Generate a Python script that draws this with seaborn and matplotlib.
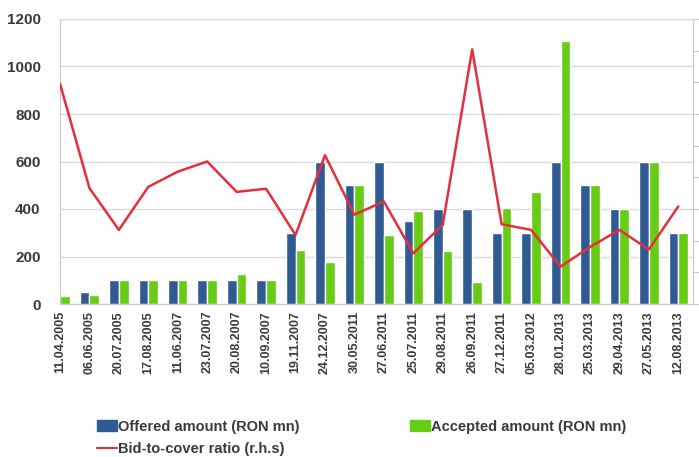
import numpy as np
import pandas as pd
import matplotlib
matplotlib.use("Agg")
import matplotlib.pyplot as plt
from matplotlib.patches import Patch
from matplotlib.lines import Line2D
import seaborn as sns

dates = ["11.04.2005", "06.06.2005", "20.07.2005", "17.08.2005", "11.06.2007",
         "23.07.2007", "20.08.2007", "10.09.2007", "19.11.2007", "24.12.2007",
         "30.05.2011", "27.06.2011", "25.07.2011", "29.08.2011", "26.09.2011",
         "27.12.2011", "05.03.2012", "28.01.2013", "25.03.2013", "29.04.2013",
         "27.05.2013", "12.08.2013"]
offered = [0, 50, 100, 100, 100, 100, 100, 100, 300, 600, 500,
           600, 350, 400, 400, 300, 300, 600, 500, 400, 600, 300]
accepted = [32, 36, 100, 100, 100, 100, 125, 100, 227, 178, 500,
            290, 390, 225, 94, 403, 473, 1108, 500, 400, 600, 300]
bid_to_cover = [3.48, 1.83, 1.17, 1.85, 2.09, 2.25, 1.77, 1.82, 1.09, 2.35, 1.41,
                1.62, 0.80, 1.25, 4.02, 1.26, 1.17, 0.59, 0.90, 1.17, 0.86, 1.54]

offered_label = "Offered amount (RON mn)"
accepted_label = "Accepted amount (RON mn)"
ratio_label = "Bid-to-cover ratio (r.h.s)"

blue = "#2F5B92"
green = "#66CC14"
red = "#E52E3E"
txt = "#3A3A3A"

sns.set_style("white")
plt.rcParams['font.family'] = ['Liberation Sans', 'DejaVu Sans']
plt.rcParams['font.weight'] = 'bold'

df = pd.DataFrame({"date": dates * 2,
                   "amount": offered + accepted,
                   "series": [offered_label] * len(dates) + [accepted_label] * len(dates)})

fig = plt.figure(figsize=(6.99, 4.57), dpi=100)
ax = fig.add_axes([60 / 699, 153 / 457, 633 / 699, 285 / 457])

sns.barplot(data=df, x="date", y="amount", hue="series", order=dates,
            palette=[blue, green], width=0.66, saturation=1, ax=ax, legend=False)

ax.set_ylim(0, 1200)
ax.set_yticks(range(0, 1201, 200))
ax.set_xlim(0, 21.5)
ax.grid(axis="y", color="#DADADA", linewidth=1)
ax.set_axisbelow(True)
ax.set_xlabel("")
ax.set_ylabel("")
for side in ["top", "right"]:
    ax.spines[side].set_visible(False)
ax.spines["left"].set_color("#C8C8C8")
ax.spines["bottom"].set_color("#C8C8C8")
ax.tick_params(axis="y", length=0, pad=14, labelsize=11, labelcolor=txt)
ax.tick_params(axis="x", length=0, pad=5, labelsize=9, labelcolor=txt, rotation=90)

ax2 = ax.twinx()
sns.lineplot(x=np.arange(len(dates)), y=bid_to_cover, color=red, linewidth=1.8, ax=ax2)
ax2.set_ylim(0, 4.5)
ax2.set_yticks(np.arange(0, 4.51, 0.5))
ax2.set_yticklabels([])
ax2.tick_params(axis="y", length=4, color="#C8C8C8")
for side in ["top", "left", "bottom"]:
    ax2.spines[side].set_visible(False)
ax2.spines["right"].set_color("#C8C8C8")
ax2.set_xlim(0, 21.5)

# column-major fill: offered / ratio in col 1, accepted in col 2
handles = [Patch(color=blue, label=offered_label),
           Line2D([], [], color=red, linewidth=1.5, label=ratio_label),
           Patch(color=green, label=accepted_label)]
fig.legend(handles=handles, ncol=2, loc="upper left", bbox_to_anchor=(91 / 699, 1 - 414 / 457),
           frameon=False, handlelength=1.35, handleheight=0.75, handletextpad=0.1,
           columnspacing=7.6, labelspacing=0.55, borderaxespad=0,
           prop={"size": 10.5, "weight": "bold"}, labelcolor=txt)

fig.savefig("out.png", dpi=100)
